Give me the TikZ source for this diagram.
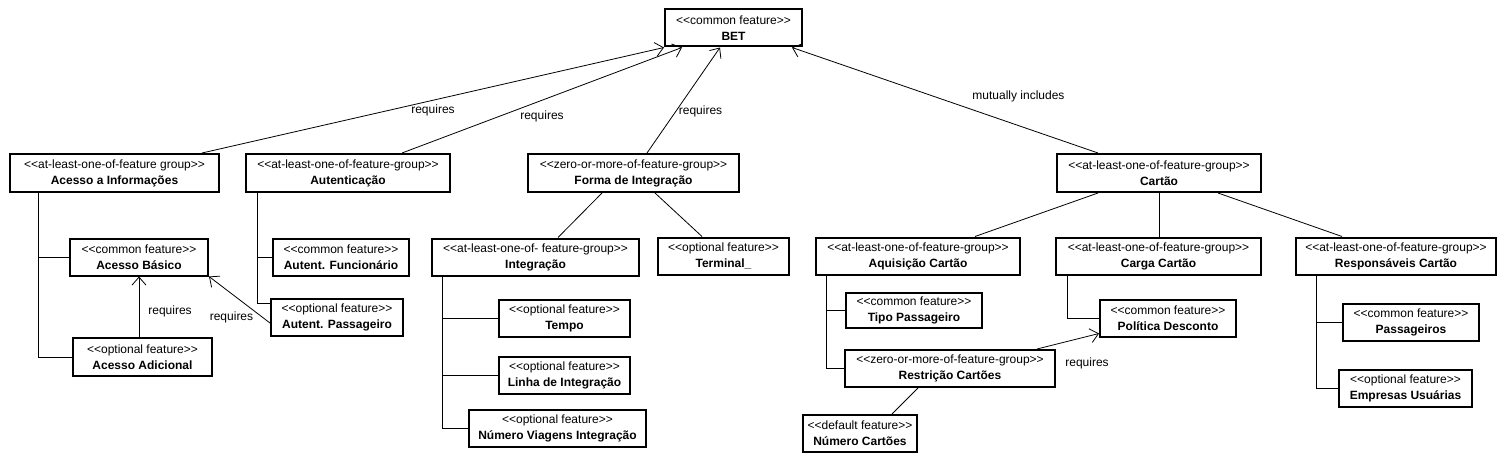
\documentclass[tikz,border=0pt]{standalone}
\usepackage{fontspec}
\setmainfont{Liberation Sans}
\usetikzlibrary{arrows.meta}

% stereotype on the first line, feature name in bold below
\newcommand{\stereo}[2]{<\kern0pt<#1>\kern0pt>\\\textbf{#2}}

\tikzset{
	feat/.style={draw, line width=2pt, align=center, inner sep=0pt,
		minimum height=37pt, font=\fontsize{12}{16}\selectfont},
	link/.style={line width=0.8pt},
	req/.style={link, -{Straight Barb[length=8pt,width=14pt]}},
	lbl/.style={font=\fontsize{12}{14}\selectfont, inner sep=1pt}
}

\begin{document}
\begin{tikzpicture}[x=1pt, y=-1pt]
	\useasboundingbox (0,0) rectangle (1511,465);
	% root
	\node[feat, minimum width=137pt] (bet) at (733.5,28) {\stereo{common feature}{BET}};
	% first level
	\node[feat, minimum width=209pt, minimum height=38pt] (acinfo) at (114.5,173) {\stereo{at-least-one-of-feature group}{Acesso a Informações}};
	\node[feat, minimum width=204pt, minimum height=38pt] (auth) at (348,173) {\stereo{at-least-one-of-feature-group}{Autenticação}};
	\node[feat, minimum width=211pt, minimum height=38pt] (forma) at (633.5,173) {\stereo{zero-or-more-of-feature-group}{Forma de Integração}};
	\node[feat, minimum width=204pt, minimum height=38pt] (cartao) at (1159,173) {\stereo{at-least-one-of-feature-group}{Cartão}};
	% second level
	\node[feat, minimum width=138pt] (acbas) at (139,257) {\stereo{common feature}{Acesso Básico}};
	\node[feat, minimum width=139pt, minimum height=38pt] (acadic) at (142.5,357) {\stereo{optional feature}{Acesso Adicional}};
	\node[feat, minimum width=136pt] (autfunc) at (341,257) {\stereo{common feature}{Autent. Funcionário}};
	\node[feat, minimum width=132pt] (autpass) at (337,317.5) {\stereo{optional feature}{Autent. Passageiro}};
	\node[feat, minimum width=207pt] (integ) at (535.5,257) {\stereo{at-least-one-of- feature-group}{Integração}};
	\node[feat, minimum width=131pt] (terminal) at (723.5,256) {\stereo{optional feature}{Terminal\_}};
	\node[feat, minimum width=131pt] (tempo) at (564.5,318.5) {\stereo{optional feature}{Tempo}};
	\node[feat, minimum width=131pt] (linha) at (564.5,375) {\stereo{optional feature}{Linha de Integração}};
	\node[feat, minimum width=177pt] (numviag) at (557.5,428.5) {\stereo{optional feature}{Número Viagens Integração}};
	\node[feat, minimum width=204pt] (aquis) at (918,256) {\stereo{at-least-one-of-feature-group}{Aquisição Cartão}};
	\node[feat, minimum width=205pt] (carga) at (1158.5,256) {\stereo{at-least-one-of-feature-group}{Carga Cartão}};
	\node[feat, minimum width=200pt] (resp) at (1396,256) {\stereo{at-least-one-of-feature-group}{Responsáveis Cartão}};
	\node[feat, minimum width=136pt, minimum height=35pt] (tipo) at (914,310.5) {\stereo{common feature}{Tipo Passageiro}};
	\node[feat, minimum width=210pt] (restr) at (950,368.5) {\stereo{zero-or-more-of-feature-group}{Restrição Cartões}};
	\node[feat, minimum width=114pt] (numcart) at (860,433.5) {\stereo{default feature}{Número Cartões}};
	\node[feat, minimum width=136pt] (politica) at (1168,318) {\stereo{common feature}{Política Desconto}};
	\node[feat, minimum width=136pt] (pass) at (1411,322) {\stereo{common feature}{Passageiros}};
	\node[feat, minimum width=133pt] (empresas) at (1405.5,388.5) {\stereo{optional feature}{Empresas Usuárias}};

	% relations to the root
	\draw[req] ([xshift=-18pt]acinfo.north east) -- (bet.south west) node[lbl, midway, yshift=-10pt] {requires};
	\draw[req] ([xshift=-49pt]auth.north east) -- ([xshift=18pt]bet.south west) node[lbl, midway, yshift=-16pt] {requires};
	\draw[req] ([xshift=13.5pt]forma.north) -- ([xshift=-13.5pt]bet.south) node[lbl, pos=0.39, right=2pt] {requires};
	\draw[req] ([xshift=42pt]cartao.north west) -- ([xshift=-11pt]bet.south east) node[lbl, pos=0.26, yshift=29pt] {mutually includes};

	% group trees
	\foreach \f in {acbas,acadic} \draw[link] ([xshift=29pt]acinfo.south west) |- (\f.west);
	\draw[link] ([xshift=12pt]auth.south west) |- (autfunc.west);
	\draw[link] ([xshift=12pt]auth.south west) |- ([yshift=-5pt]autpass.north west);
	\foreach \f in {tempo,linha,numviag} \draw[link] ([xshift=11pt]integ.south west) |- (\f.west);
	\foreach \f in {tipo,restr} \draw[link] ([xshift=11pt]aquis.south west) |- (\f.west);
	\draw[link] ([xshift=12pt]carga.south west) |- (politica.west);
	\foreach \f in {pass,empresas} \draw[link] ([xshift=21pt]resp.south west) |- (\f.west);

	\draw[link] ([xshift=-31.5pt]forma.south) -- ([xshift=22.5pt]integ.north);
	\draw[link] ([xshift=21.5pt]forma.south) -- ([xshift=-21.5pt]terminal.north);
	\draw[link] ([xshift=42pt]cartao.south west) -- ([xshift=57pt]aquis.north);
	\draw[link] (cartao.south) -- (cartao.south |- carga.north);
	\draw[link] ([xshift=-44pt]cartao.south east) -- ([xshift=-54pt]resp.north);
	\draw[link] ([xshift=-32pt]restr.south) -- ([xshift=32pt]numcart.north);

	% requires between features
	\draw[req] (acadic.north -| acbas.south) -- (acbas.south) node[lbl, midway, right=8pt, yshift=-5pt] {requires};
	\draw[req] ([yshift=-5.5pt]autpass.west) -- (acbas.south east) node[lbl, midway, xshift=-8pt, yshift=-18pt] {requires};
	\draw[req] ([xshift=-19pt]restr.north east) -- ([yshift=4pt]politica.south west) node[lbl, midway, xshift=19pt, yshift=-22pt] {requires};
\end{tikzpicture}
\end{document}
